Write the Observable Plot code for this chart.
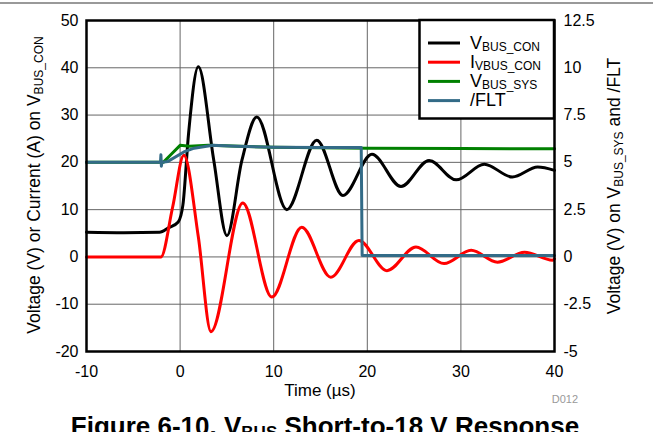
<!DOCTYPE html>
<html><head><meta charset="utf-8">
<script src="https://cdn.jsdelivr.net/npm/d3@7"></script>
<script src="https://cdn.jsdelivr.net/npm/@observablehq/plot@0.6"></script>
<style>
body{margin:0;background:#fff;}
#chart{position:relative;width:653px;height:432px;overflow:hidden;}
svg{font-family:'Liberation Sans', Arial, sans-serif;}
</style>
</head><body><div id="chart"></div>
<script>
// Tick values
const xTicks = [-10, 0, 10, 20, 30, 40];
const yTicks = [-20, -10, 0, 10, 20, 30, 40, 50];
const rightPerLeft = 0.25; // right axis unit = left / 4

// V_BUS_CON (V, left axis)
const tBusCon = [-10, -6, -2.2, -1.2, -0.2, 0.3, 0.9, 1.95, 3.6, 5.0, 6.6, 8.2, 11.4, 14.6, 17.4, 20.5, 23.6, 26.6, 29.5, 32.5, 35.5, 38.2, 40];
const vBusCon = [5.2, 5.1, 5.2, 6.2, 7.4, 11, 26, 40.2, 20.4, 4.5, 20.4, 29.6, 10.0, 24.7, 13.0, 21.7, 14.9, 20.4, 16.3, 19.6, 16.9, 19.0, 18.3];

// I_VBUS_CON (A, left axis)
const tIBus = [-10, -6, -2.05, -0.8, 0.4, 1.95, 3.3, 6.7, 9.8, 13.0, 16.1, 19.1, 22.1, 25.2, 28.2, 31.1, 33.9, 36.8, 39.8, 40];
const iBusCon = [0, 0, 0, 10.5, 21.5, 4.2, -15.8, 11.4, -8.5, 6.3, -4.3, 3.5, -2.9, 2.1, -1.4, 1.4, -1.1, 1.0, -0.7, -0.4];

// V_BUS_SYS (V, right axis)
const tSys = [-10, -1.8, -1.0, 0, 1, 3, 10, 20, 30, 40];
const vBusSys = [5.0, 5.0, 5.4, 5.9, 5.85, 5.9, 5.8, 5.75, 5.73, 5.72];

// /FLT (V, right axis)
const tFlt = [-10, -2.1, -2.05, -2.0, -1.95, -1.3, 0.4, 1.5, 3.5, 6, 10, 15, 19.35, 19.45, 40];
const vFlt = [5.0, 5.0, 5.4, 4.8, 5.0, 5.05, 5.55, 5.75, 5.9, 5.85, 5.8, 5.78, 5.78, 0.08, 0.08];

const rows = (ts, vs) => ts.map((t, i) => ({t, v: vs[i]}));
const busCon = rows(tBusCon, vBusCon);
const iBus = rows(tIBus, iBusCon);
const sys = rows(tSys, vBusSys);
const flt = rows(tFlt, vFlt);

const colors = {busCon: "#000000", iBus: "#ff0000", sys: "#008000", flt: "#336b87"};

const plot = Plot.plot({
  width: 653,
  height: 432,
  marginLeft: 86,
  marginRight: 99,
  marginTop: 20,
  marginBottom: 81,
  style: {fontFamily: "'Liberation Sans', Arial, sans-serif", fontSize: "16px", background: "#fff", color: "#000"},
  x: {domain: [-10, 40]},
  y: {domain: [-20, 50]},
  marks: [
    Plot.gridX(xTicks, {stroke: "#666", strokeOpacity: 1, strokeWidth: 1}),
    Plot.gridY(yTicks, {stroke: "#666", strokeOpacity: 1, strokeWidth: 1}),
    Plot.axisX(xTicks, {tickSize: 0, tickPadding: 14, label: null, fontSize: 16, tickFormat: d => String(d)}),
    Plot.axisY(yTicks, {anchor: "left", tickSize: 0, tickPadding: 8, label: null, fontSize: 16, tickFormat: d => String(d)}),
    Plot.axisY(yTicks, {anchor: "right", tickSize: 0, tickPadding: 9, label: null, fontSize: 16, tickFormat: d => String(d * rightPerLeft)}),
    Plot.line(busCon, {x: "t", y: "v", stroke: colors.busCon, strokeWidth: 3, curve: "monotone-x"}),
    Plot.line(iBus, {x: "t", y: "v", stroke: colors.iBus, strokeWidth: 3, curve: "monotone-x"}),
    Plot.line(sys, {x: "t", y: d => d.v / rightPerLeft, stroke: colors.sys, strokeWidth: 3, curve: "linear"}),
    Plot.line(flt, {x: "t", y: d => d.v / rightPerLeft, stroke: colors.flt, strokeWidth: 3, curve: "linear"}),
    Plot.frame({stroke: "#000", strokeWidth: 2.5})
  ]
});
document.getElementById("chart").appendChild(plot);

const svg = d3.select(plot);
const font = "'Liberation Sans', Arial, sans-serif";

// helper: text with subscript parts
function richText(g, parts, size, subSize, attrs, shift = 3) {
  const t = g.append("text").attr("font-family", font).attr("font-size", size).attr("fill", "#000")
    .attr("text-anchor", "start");
  Object.entries(attrs).forEach(([k, v]) => t.attr(k, v));
  let shifted = false;
  parts.forEach(([str, sub]) => {
    const ts = t.append("tspan").text(str);
    if (sub) { ts.attr("font-size", subSize).attr("dy", shifted ? 0 : shift); shifted = true; }
    else { if (shifted) ts.attr("dy", -shift); shifted = false; }
  });
  return t;
}

// top rule line
svg.append("line").attr("x1", 0).attr("x2", 653).attr("y1", 3).attr("y2", 3).attr("stroke", "#999").attr("stroke-width", 2);

// axis titles
richText(svg, [["Voltage (V) or Current (A) on V"], ["BUS_CON", true]], 17.5, 12,
  {"text-anchor": "middle", transform: "translate(40,185) rotate(-90)"});
richText(svg, [["Voltage (V) on V"], ["BUS_SYS", true], [" and /FLT"]], 17.5, 12,
  {"text-anchor": "middle", transform: "translate(620,186) rotate(-90)"});
richText(svg, [["Time (\u00b5s)"]], 17, 12, {"text-anchor": "middle", x: 320, y: 396});
svg.append("text").attr("x", 578).attr("y", 403).attr("text-anchor", "end").attr("font-family", font)
  .attr("font-size", 11).attr("fill", "#999").text("D012");

// title
richText(svg, [["Figure 6-10. V"], ["BUS", true], [" Short-to-18 V Response"]], 26, 17,
  {"text-anchor": "middle", x: 325, y: 435, "font-weight": "bold"});

// legend
const lg = svg.append("g");
lg.append("rect").attr("x", 419.5).attr("y", 20).attr("width", 134.5).attr("height", 98.5)
  .attr("fill", "#fff").attr("stroke", "#000").attr("stroke-width", 2.5);
const legendItems = [
  {color: colors.busCon, parts: [["V"], ["BUS_CON", true]]},
  {color: colors.iBus, parts: [["I"], ["VBUS_CON", true]]},
  {color: colors.sys, parts: [["V"], ["BUS_SYS", true]]},
  {color: colors.flt, parts: [["/FLT"]]}
];
legendItems.forEach((it, i) => {
  const base = 48.5 + i * 19.2;
  lg.append("line").attr("x1", 428).attr("x2", 460).attr("y1", base - 5.5).attr("y2", base - 5.5)
    .attr("stroke", it.color).attr("stroke-width", 3);
  richText(lg, it.parts, 18, 12, {x: 470, y: base, "text-anchor": "start"}, 2);
});
</script>
</body></html>
